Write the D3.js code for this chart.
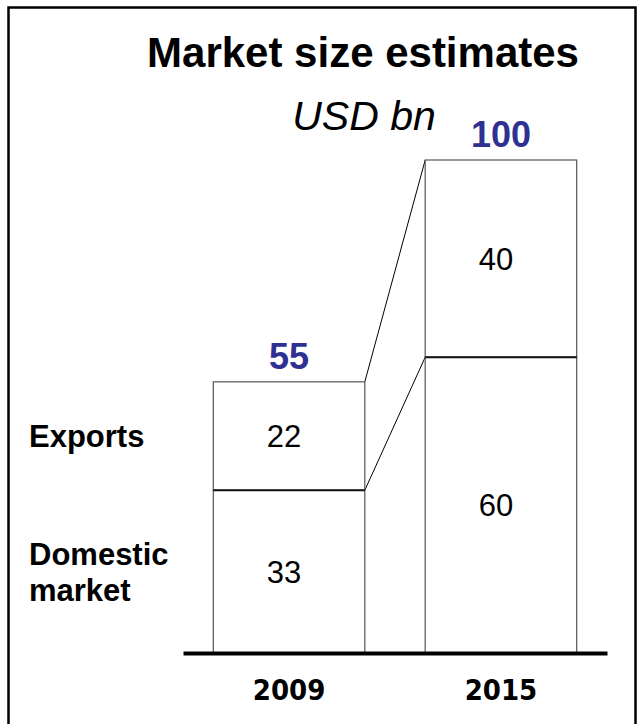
<!DOCTYPE html>
<html>
<head>
<meta charset="utf-8">
<script src="https://cdn.jsdelivr.net/npm/d3@7"></script>
<style>
  html, body { margin: 0; padding: 0; background: #fff; }
  svg { display: block; }
</style>
</head>
<body>
<div id="root"></div>
<script>
// chart data
const years = ['2009', '2015'];
const segments = ['Domestic market', 'Exports'];
const domestic = [33, 60];
const exportsValues = [22, 40];
const totals = [55, 100];

const width = 644, height = 724;

const svg = d3.select('#root').append('svg')
  .attr('width', width)
  .attr('height', height)
  .attr('viewBox', [0, 0, width, height]);

// outer frame (bottom edge runs off the picture)
svg.append('rect')
  .attr('x', 8.5)
  .attr('y', 7.5)
  .attr('width', 627)
  .attr('height', 760)
  .attr('fill', 'none')
  .attr('stroke', '#000')
  .attr('stroke-width', 2.5);

// title + unit
svg.append('text')
  .attr('x', 363)
  .attr('y', 67)
  .attr('text-anchor', 'middle')
  .attr('font-family', 'Liberation Sans, Arial, sans-serif')
  .attr('font-weight', 'bold')
  .attr('font-size', 42)
  .text('Market size estimates');

svg.append('text')
  .attr('x', 364)
  .attr('y', 130)
  .attr('text-anchor', 'middle')
  .attr('font-family', 'Liberation Sans, Arial, sans-serif')
  .attr('font-style', 'italic')
  .attr('font-size', 41)
  .text('USD bn');

// scales
const x = d3.scaleBand()
  .domain(years)
  .range([183, 607])
  .paddingInner(0.285)
  .paddingOuter(0.143);

const y = d3.scaleLinear()
  .domain([0, 100])
  .range([653, 160]);

// build stacked rows from the arrays
const rows = years.map((year, i) => ({ year, domestic: domestic[i], exports: exportsValues[i], total: totals[i] }));
const stack = d3.stack().keys(['domestic', 'exports']);
const series = stack(rows);

// connector lines between the two bars, at each cumulative level
const levels = [
  [domestic[0], domestic[1]],
  [totals[0], totals[1]]
];
svg.append('g')
  .selectAll('line')
  .data(levels)
  .join('line')
  .attr('x1', x(years[0]) + x.bandwidth())
  .attr('y1', d => y(d[0]))
  .attr('x2', x(years[1]))
  .attr('y2', d => y(d[1]))
  .attr('stroke', '#000')
  .attr('stroke-width', 1);

// bar segments
const segGroups = svg.append('g')
  .selectAll('g')
  .data(series)
  .join('g');

segGroups.selectAll('rect')
  .data(d => d)
  .join('rect')
  .attr('x', d => x(d.data.year))
  .attr('y', d => y(d[1]))
  .attr('width', x.bandwidth())
  .attr('height', d => y(d[0]) - y(d[1]))
  .attr('fill', '#fff')
  .attr('stroke', '#555')
  .attr('stroke-width', 1.2);

// darker dividers between domestic and exports
svg.append('g')
  .selectAll('line')
  .data(rows)
  .join('line')
  .attr('x1', d => x(d.year))
  .attr('x2', d => x(d.year) + x.bandwidth())
  .attr('y1', d => y(d.domestic))
  .attr('y2', d => y(d.domestic))
  .attr('stroke', '#111')
  .attr('stroke-width', 2);

// value labels inside the segments
segGroups.selectAll('text')
  .data(d => d)
  .join('text')
  .attr('x', d => x(d.data.year) + x.bandwidth() / 2 - 5)
  .attr('y', d => (y(d[0]) + y(d[1])) / 2)
  .attr('dy', '0.36em')
  .attr('text-anchor', 'middle')
  .attr('font-family', 'Liberation Sans, Arial, sans-serif')
  .attr('font-size', 31)
  .attr('fill', '#000')
  .text(d => d[1] - d[0]);

// totals above the bars
svg.append('g')
  .selectAll('text')
  .data(rows)
  .join('text')
  .attr('x', d => x(d.year) + x.bandwidth() / 2)
  .attr('y', d => y(d.total) - 13)
  .attr('text-anchor', 'middle')
  .attr('font-family', 'Liberation Sans, Arial, sans-serif')
  .attr('font-weight', 'bold')
  .attr('font-size', 36)
  .attr('fill', '#2f3192')
  .text(d => d.total);

// row labels on the left, lined up with the first bar's segments
const rowLabels = [
  { lines: ['Exports'], mid: (y(domestic[0]) + y(totals[0])) / 2 },
  { lines: ['Domestic', 'market'], mid: (y(0) + y(domestic[0])) / 2 }
];
rowLabels.forEach(lbl => {
  const t = svg.append('text')
    .attr('font-family', 'Liberation Sans, Arial, sans-serif')
    .attr('font-weight', 'bold')
    .attr('font-size', 31)
    .attr('fill', '#000');
  const top = lbl.mid - (lbl.lines.length - 1) * 36 / 2 + 11;
  lbl.lines.forEach((s, i) => {
    t.append('tspan')
      .attr('x', 29)
      .attr('y', top + i * 36)
      .text(s);
  });
});

// baseline axis with year labels
const xAxis = svg.append('g')
  .attr('transform', `translate(0,${y(0)})`)
  .call(d3.axisBottom(x).tickSize(0).tickSizeOuter(0).tickPadding(26));

xAxis.select('.domain')
  .attr('stroke', '#000')
  .attr('stroke-width', 4);

xAxis.selectAll('text')
  .attr('font-family', 'DejaVu Sans Condensed, DejaVu Sans, sans-serif')
  .attr('font-weight', 'bold')
  .attr('font-size', 29)
  .attr('fill', '#000');
</script>
</body>
</html>
